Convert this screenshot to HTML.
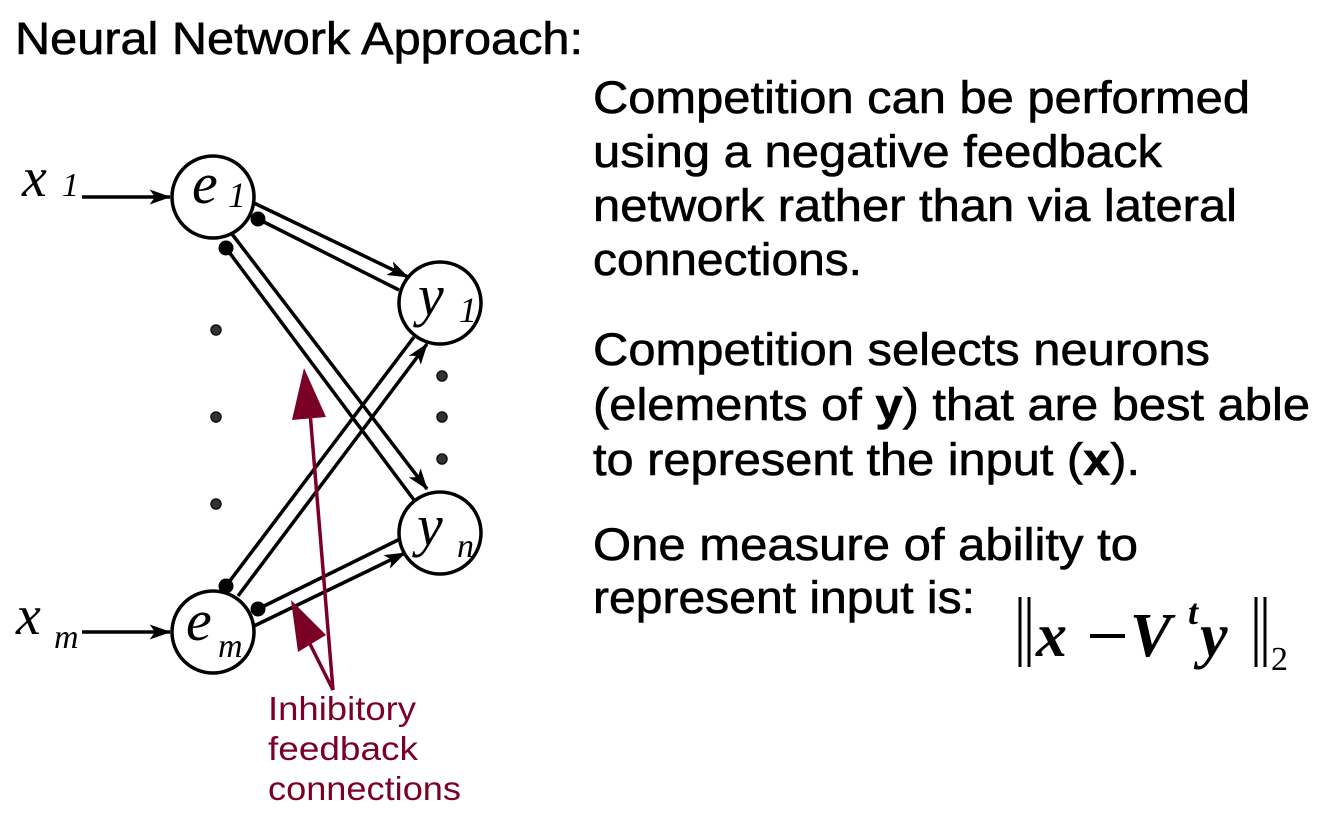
<!DOCTYPE html>
<html><head><meta charset="utf-8"><style>
html,body{margin:0;padding:0;background:#fff;width:1330px;height:832px;overflow:hidden}
svg{display:block}
.t{font-family:"Liberation Sans",Arial,sans-serif;font-size:45px;fill:#000;stroke:#000;stroke-width:0.6}
.m{font-family:"Liberation Serif","Times New Roman",serif;font-style:italic;fill:#000}
.r{font-family:"Liberation Sans",Arial,sans-serif;font-size:33px;fill:#7a0026}
</style></head><body>
<svg width="1330" height="832" viewBox="0 0 1330 832" xmlns="http://www.w3.org/2000/svg">
<defs>
<marker id="ah" viewBox="0 0 20 14" refX="19" refY="7" markerWidth="22" markerHeight="15" markerUnits="userSpaceOnUse" orient="auto"><path d="M0,0 L20,7 L0,14 L5,7 Z" fill="#000"/></marker>
</defs>
<text class="t" x="15" y="54" textLength="568" lengthAdjust="spacingAndGlyphs">Neural Network Approach:</text>

<text class="t" x="593" y="113" textLength="657" lengthAdjust="spacingAndGlyphs">Competition can be performed</text>
<text class="t" x="593" y="167" textLength="569" lengthAdjust="spacingAndGlyphs">using a negative feedback</text>
<text class="t" x="593" y="221" textLength="644" lengthAdjust="spacingAndGlyphs">network rather than via lateral</text>
<text class="t" x="593" y="275" textLength="269" lengthAdjust="spacingAndGlyphs">connections.</text>

<text class="t" x="593" y="365" textLength="617" lengthAdjust="spacingAndGlyphs">Competition selects neurons</text>
<text class="t" x="593" y="420" textLength="717" lengthAdjust="spacingAndGlyphs">(elements of <tspan font-weight="bold">y</tspan>) that are best able</text>
<text class="t" x="593" y="475" textLength="547" lengthAdjust="spacingAndGlyphs">to represent the input (<tspan font-weight="bold">x</tspan>).</text>

<text class="t" x="593" y="560" textLength="545" lengthAdjust="spacingAndGlyphs">One measure of ability to</text>
<text class="t" x="593" y="613" textLength="382" lengthAdjust="spacingAndGlyphs">represent input is:</text>

<!-- formula -->
<g stroke="#000" stroke-width="3">
<line x1="1020" y1="597" x2="1020" y2="667"/><line x1="1029" y1="597" x2="1029" y2="667"/>
<line x1="1256" y1="597" x2="1256" y2="667"/><line x1="1265" y1="597" x2="1265" y2="667"/>
</g>
<text class="m" x="1036" y="656" font-size="62" font-weight="bold">x</text>
<rect x="1090" y="634" width="35" height="4" fill="#000"/>
<text class="m" x="1130" y="656" font-size="62" font-weight="bold">V</text>
<text class="m" x="1188" y="624" font-size="36" font-weight="bold">t</text>
<text class="m" x="1200" y="656" font-size="62" font-weight="bold">y</text>
<text x="1271" y="670" font-family="Liberation Serif,serif" font-size="34">2</text>

<!-- connections -->
<g stroke="#000" stroke-width="3.5" fill="none">
<line x1="82" y1="197" x2="170" y2="197" marker-end="url(#ah)"/>
<line x1="82" y1="632" x2="170" y2="632" marker-end="url(#ah)"/>
<line x1="254" y1="203" x2="408" y2="277" marker-end="url(#ah)"/>
<line x1="258" y1="219" x2="399" y2="290"/>
<line x1="232" y1="234" x2="427" y2="489" marker-end="url(#ah)"/>
<line x1="226" y1="248" x2="414" y2="500"/>
<line x1="238" y1="596" x2="427" y2="344" marker-end="url(#ah)"/>
<line x1="226" y1="586" x2="414" y2="337"/>
<line x1="254" y1="626" x2="405" y2="553" marker-end="url(#ah)"/>
<line x1="258" y1="609" x2="400" y2="539"/>
</g>
<g fill="#000">
<circle cx="258" cy="219" r="7.5"/><circle cx="226" cy="248" r="7.5"/>
<circle cx="226" cy="586" r="7.5"/><circle cx="258" cy="609" r="7.5"/>
</g>
<g fill="#333" stroke="#111" stroke-width="1.5">
<circle cx="216" cy="330" r="5"/><circle cx="216" cy="417" r="5"/><circle cx="216" cy="504" r="5"/>
<circle cx="442" cy="376" r="5"/><circle cx="442" cy="417" r="5"/><circle cx="442" cy="459" r="5"/>
</g>
<g fill="#fff" stroke="#000" stroke-width="3.5">
<circle cx="213" cy="197" r="41"/><circle cx="440" cy="303" r="41"/>
<circle cx="440" cy="533" r="41"/><circle cx="213" cy="632" r="41"/>
</g>
<text class="m" x="22" y="196" font-size="56">x</text><text class="m" x="62" y="196" font-size="34">1</text>
<text class="m" x="16" y="634" font-size="56">x</text><text class="m" x="54" y="648" font-size="34">m</text>
<text class="m" x="192" y="203" font-size="58">e</text><text class="m" x="228" y="207" font-size="36">1</text>
<text class="m" x="186" y="640" font-size="58">e</text><text class="m" x="218" y="657" font-size="34">m</text>
<text class="m" x="418" y="315" font-size="58">y</text><text class="m" x="459" y="322" font-size="36">1</text>
<text class="m" x="417" y="545" font-size="58">y</text><text class="m" x="457" y="557" font-size="34">n</text>

<!-- red inhibitory -->
<g stroke="#7a0026" stroke-width="3.5" fill="none">
<line x1="333" y1="690" x2="309" y2="400"/>
<line x1="333" y1="690" x2="308" y2="640"/>
</g>
<g fill="#7a0026">
<polygon points="304,368 292,420 326,417"/>
<polygon points="291,600 298,652 326,635"/>
</g>
<text class="r" x="268" y="720" textLength="148" lengthAdjust="spacingAndGlyphs">Inhibitory</text>
<text class="r" x="268" y="760" textLength="150" lengthAdjust="spacingAndGlyphs">feedback</text>
<text class="r" x="268" y="800" textLength="193" lengthAdjust="spacingAndGlyphs">connections</text>
</svg>
</body></html>
